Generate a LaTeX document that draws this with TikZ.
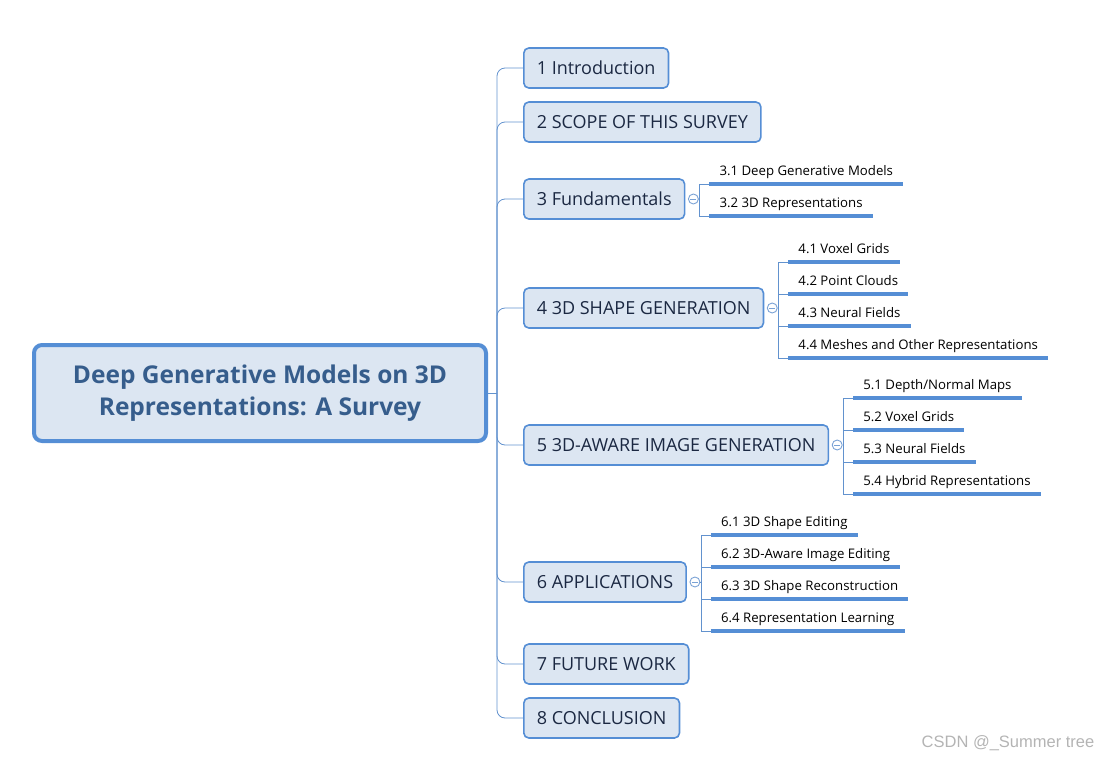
\documentclass[tikz,border=0pt]{standalone}
\usepackage{fontspec}
\setmainfont{Open Sans}
\newfontfamily\markfont{Liberation Sans}
\usepackage{xcolor}
\usepackage{tikz}
\usetikzlibrary{positioning, calc}
\definecolor{MapFill}{RGB}{220, 230, 242}
\definecolor{MapBorder}{RGB}{85, 142, 213}
\definecolor{MapLine}{RGB}{98, 146, 206}
\definecolor{MapRootText}{RGB}{54, 93, 140}
\definecolor{MapTextDark}{RGB}{27, 40, 66}
\definecolor{MapMark}{RGB}{180, 180, 180}

\tikzset{
  rootbox/.style={
    rounded corners=8pt, fill=MapFill, draw=MapBorder, line width=4pt,
    minimum width=452pt, minimum height=96pt, align=center,
    font=\fontsize{24.5}{32}\selectfont\bfseries, text=MapRootText
  },
  topicbox/.style={
    anchor=west, rounded corners=5pt, fill=MapFill, draw=MapBorder,
    line width=1.6pt, minimum height=40pt, inner xsep=13pt,
    font=\fontsize{18}{20}\selectfont, text=MapTextDark
  },
  subtopic/.style={
    anchor=south west, inner xsep=10pt, inner ysep=5pt,
    text height=10pt, text depth=3.5pt,
    font=\fontsize{13.2}{15}\selectfont, text=black
  },
  conn/.style={draw=MapLine, line width=0.8pt},
  uline/.style={draw=MapBorder, line width=3.2pt},
  minus/.style={
    circle, draw=MapLine!85, fill=white, line width=0.9pt,
    minimum size=10pt, inner sep=0pt,
    path picture={\draw[MapLine!85, line width=0.9pt]
      ([xshift=-3pt]path picture bounding box.center) --
      ([xshift=3pt]path picture bounding box.center);}
  }
}

\begin{document}
\begin{tikzpicture}[x=1pt, y=-1pt]
  \useasboundingbox (0,0) rectangle (1112,761);

  % central topic
  \node[rootbox] (root) at (260,393)
    {Deep Generative Models on 3D\\Representations: A Survey};

  % main topics
  \node[topicbox] (t1) at (523,68)  {1 Introduction};
  \node[topicbox] (t2) at (523,122) {2 SCOPE OF THIS SURVEY};
  \node[topicbox] (t3) at (523,199) {3 Fundamentals};
  \node[topicbox] (t4) at (523,308) {4 3D SHAPE GENERATION};
  \node[topicbox] (t5) at (523,445) {5 3D-AWARE IMAGE GENERATION};
  \node[topicbox] (t6) at (523,582) {6 APPLICATIONS};
  \node[topicbox] (t7) at (523,664) {7 FUTURE WORK};
  \node[topicbox] (t8) at (523,718) {8 CONCLUSION};

  % trunk
  \coordinate (bus) at (497,393);
  \draw[conn] (root.east) -- (bus);
  \foreach \t in {t1,t2,t3,t4,t5,t6,t7,t8}
    \draw[conn, rounded corners=8pt] (bus) |- (\t.west);

  % collapse markers and bracket lines
  \node[minus] (m3) at ([xshift=8pt]t3.east) {};
  \node[minus] (m4) at ([xshift=8pt]t4.east) {};
  \node[minus] (m5) at ([xshift=8pt]t5.east) {};
  \node[minus] (m6) at ([xshift=8pt]t6.east) {};
  \coordinate (b3) at ([xshift=6pt]m3.center);
  \coordinate (b4) at ([xshift=6pt]m4.center);
  \coordinate (b5) at ([xshift=6pt]m5.center);
  \coordinate (b6) at ([xshift=6pt]m6.center);

  % 3 Fundamentals
  \node[subtopic] (s31) at ([xshift=10pt]b3 |- 0,184) {3.1 Deep Generative Models};
  \node[subtopic] (s32) at ([xshift=10pt]b3 |- 0,216) {3.2 3D Representations};

  % 4 3D shape generation
  \node[subtopic] (s41) at ([xshift=10pt]b4 |- 0,262) {4.1 Voxel Grids};
  \node[subtopic] (s42) at ([xshift=10pt]b4 |- 0,294) {4.2 Point Clouds};
  \node[subtopic] (s43) at ([xshift=10pt]b4 |- 0,326) {4.3 Neural Fields};
  \node[subtopic] (s44) at ([xshift=10pt]b4 |- 0,358) {4.4 Meshes and Other Representations};

  % 5 3D-aware image generation
  \node[subtopic] (s51) at ([xshift=10pt]b5 |- 0,398) {5.1 Depth/Normal Maps};
  \node[subtopic] (s52) at ([xshift=10pt]b5 |- 0,430) {5.2 Voxel Grids};
  \node[subtopic] (s53) at ([xshift=10pt]b5 |- 0,462) {5.3 Neural Fields};
  \node[subtopic] (s54) at ([xshift=10pt]b5 |- 0,494) {5.4 Hybrid Representations};

  % 6 applications
  \node[subtopic] (s61) at ([xshift=10pt]b6 |- 0,535) {6.1 3D Shape Editing};
  \node[subtopic] (s62) at ([xshift=10pt]b6 |- 0,567) {6.2 3D-Aware Image Editing};
  \node[subtopic] (s63) at ([xshift=10pt]b6 |- 0,599) {6.3 3D Shape Reconstruction};
  \node[subtopic] (s64) at ([xshift=10pt]b6 |- 0,631) {6.4 Representation Learning};

  % underlines
  \foreach \s in {s31,s32,s41,s42,s43,s44,s51,s52,s53,s54,s61,s62,s63,s64}
    \draw[uline] (\s.south west) -- (\s.south east);

  % brackets
  \draw[conn] (s31.south west) -| (b3) |- (s32.south west);
  \draw[conn] (m3.east) -- (b3);
  \draw[conn] (s41.south west) -| (b4) |- (s44.south west);
  \draw[conn] (s42.south west) -- (s42.south west -| b4);
  \draw[conn] (s43.south west) -- (s43.south west -| b4);
  \draw[conn] (m4.east) -- (b4);
  \draw[conn] (s51.south west) -| (b5) |- (s54.south west);
  \draw[conn] (s52.south west) -- (s52.south west -| b5);
  \draw[conn] (s53.south west) -- (s53.south west -| b5);
  \draw[conn] (m5.east) -- (b5);
  \draw[conn] (s61.south west) -| (b6) |- (s64.south west);
  \draw[conn] (s62.south west) -- (s62.south west -| b6);
  \draw[conn] (s63.south west) -- (s63.south west -| b6);
  \draw[conn] (m6.east) -- (b6);

  % watermark
  \node[text=MapMark, font=\markfont\fontsize{16.5}{18}\selectfont] (mark) at (1008,743) {CSDN @\_Summer tree};
\end{tikzpicture}
\end{document}
